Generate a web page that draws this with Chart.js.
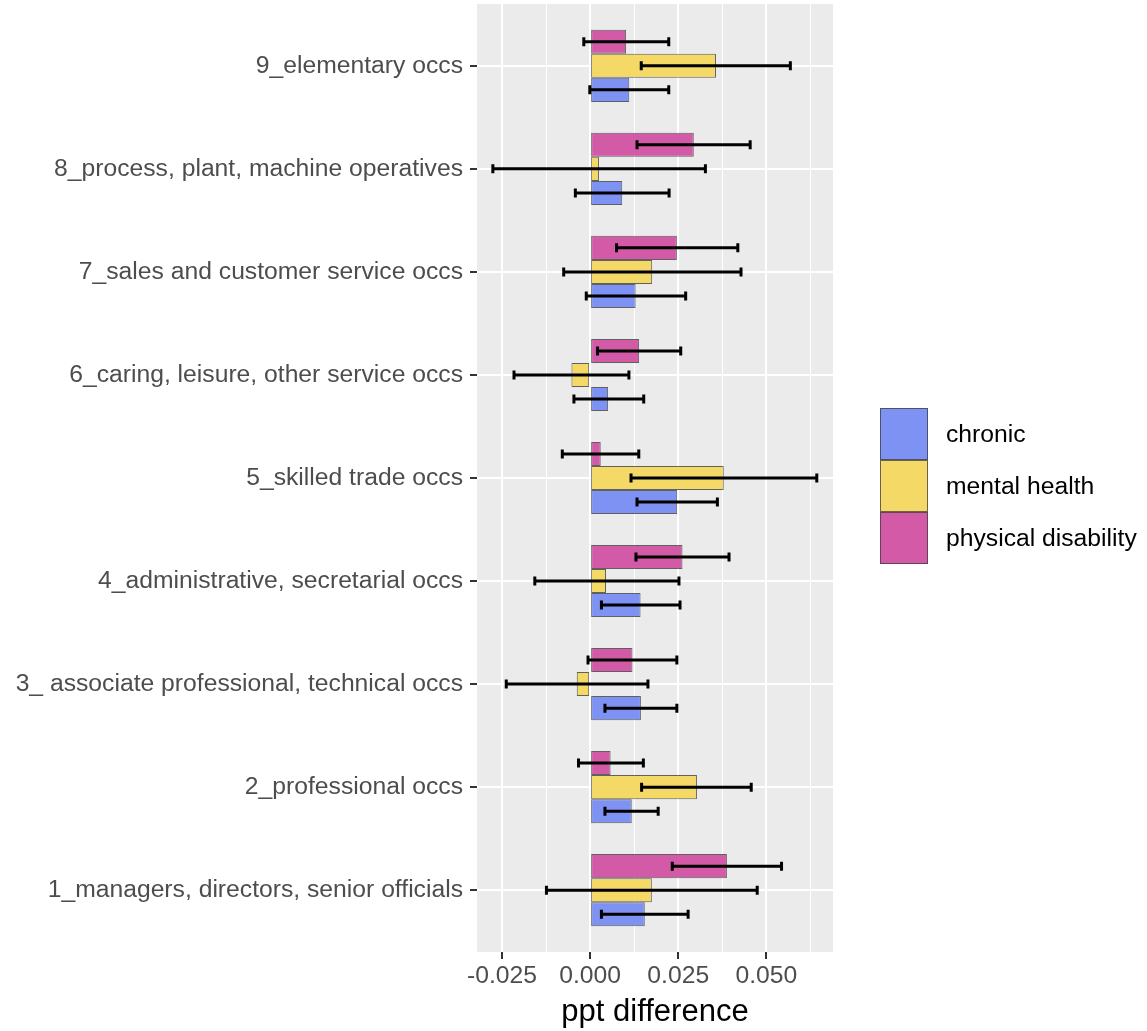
<!DOCTYPE html>
<html>
<head>
<meta charset="utf-8">
<script src="https://cdn.jsdelivr.net/npm/chart.js@4.4.0/dist/chart.umd.min.js"></script>
<style>
  body { margin: 0; background: #fff; }
  #wrap { position: relative; width: 1147px; height: 1031px; }
  #legend { position: absolute; left: 880px; top: 408px; font-family: "Liberation Sans", Arial, sans-serif; font-size: 24.7px; color: #000; }
  .row { display: flex; align-items: center; height: 52px; }
  .key { width: 48px; height: 52px; box-sizing: border-box; border: 1px solid rgba(60,60,60,0.75); margin-right: 18px; }
</style>
</head>
<body>
<div id="wrap">
  <canvas id="c" width="1147" height="1031"></canvas>
  <div id="legend"></div>
</div>
<script>
// occupation groups, bottom (1) to top (9)
const occupations = [
  '1_managers, directors, senior officials',
  '2_professional occs',
  '3_ associate professional, technical occs',
  '4_administrative, secretarial occs',
  '5_skilled trade occs',
  '6_caring, leisure, other service occs',
  '7_sales and customer service occs',
  '8_process, plant, machine operatives',
  '9_elementary occs'
];

const chronic      = [0.0155, 0.0118, 0.0144, 0.0143, 0.0247, 0.0051, 0.0129, 0.0091, 0.0111];
const chronicLo    = [0.0032, 0.0042, 0.0042, 0.0032, 0.0133, -0.0046, -0.0011, -0.0042, -0.0001];
const chronicHi    = [0.0278, 0.0193, 0.0246, 0.0255, 0.0361, 0.0152, 0.0271, 0.0224, 0.0223];

const mental       = [0.0175, 0.0303, -0.0038, 0.0045, 0.0379, -0.0053, 0.0176, 0.0025, 0.0357];
const mentalLo     = [-0.0124, 0.0146, -0.0238, -0.0157, 0.0116, -0.0216, -0.0075, -0.0276, 0.0145];
const mentalHi     = [0.0474, 0.0457, 0.0164, 0.0252, 0.0643, 0.0110, 0.0428, 0.0327, 0.0568];

const physical     = [0.0388, 0.0058, 0.0120, 0.0262, 0.0030, 0.0139, 0.0246, 0.0294, 0.0102];
const physicalLo   = [0.0233, -0.0033, -0.0006, 0.0130, -0.0079, 0.0021, 0.0075, 0.0133, -0.0018];
const physicalHi   = [0.0543, 0.0151, 0.0246, 0.0394, 0.0138, 0.0257, 0.0419, 0.0454, 0.0223];

const xTicks = [-0.025, -0.0125, 0, 0.0125, 0.025, 0.0375, 0.05, 0.0625];

const groups = [
  { label: 'chronic', data: chronic, lo: chronicLo, hi: chronicHi, color: '#7D92F3' },
  { label: 'mental health', data: mental, lo: mentalLo, hi: mentalHi, color: '#F4D966' },
  { label: 'physical disability', data: physical, lo: physicalLo, hi: physicalHi, color: '#D35AA6' }
];

const isMajor = v => Math.abs(v / 0.025 - Math.round(v / 0.025)) < 1e-9;

// topmost bar in each group is the last legend entry
const datasets = groups.slice().reverse().map(g => ({
  label: g.label,
  data: g.data.map((v, i) => ({ x: v, y: i + 1 })),
  lo: g.lo, hi: g.hi,
  backgroundColor: g.color,
  borderColor: 'rgba(50,50,50,0.75)',
  borderWidth: 1,
  borderSkipped: false,
  categoryPercentage: 0.7,
  barPercentage: 1.0
}));

const panelBg = {
  id: 'panelBg',
  beforeDraw(chart) {
    const { ctx, chartArea: a } = chart;
    ctx.save();
    ctx.fillStyle = '#EBEBEB';
    ctx.fillRect(a.left, a.top, a.right - a.left, a.bottom - a.top);
    ctx.restore();
  }
};

const errorBars = {
  id: 'errorBars',
  afterDatasetsDraw(chart) {
    const { ctx } = chart;
    const xs = chart.scales.x;
    ctx.save();
    ctx.strokeStyle = '#000';
    ctx.lineWidth = 3;
    chart.data.datasets.forEach((ds, di) => {
      chart.getDatasetMeta(di).data.forEach((bar, i) => {
        const y = bar.y;
        const x1 = xs.getPixelForValue(ds.lo[i]);
        const x2 = xs.getPixelForValue(ds.hi[i]);
        ctx.beginPath();
        ctx.moveTo(x1, y); ctx.lineTo(x2, y);
        ctx.moveTo(x1, y - 4.5); ctx.lineTo(x1, y + 4.5);
        ctx.moveTo(x2, y - 4.5); ctx.lineTo(x2, y + 4.5);
        ctx.stroke();
      });
    });
    ctx.restore();
  }
};

Chart.defaults.font.family = '"Liberation Sans", Arial, sans-serif';

new Chart(document.getElementById('c'), {
  type: 'bar',
  data: { datasets },
  options: {
    indexAxis: 'y',
    responsive: false,
    animation: false,
    layout: { padding: { top: 4, right: 314, bottom: 0, left: 0 } },
    plugins: { legend: { display: false }, tooltip: { enabled: false } },
    scales: {
      x: {
        type: 'linear',
        min: -0.0321,
        max: 0.0689,
        afterBuildTicks: s => { s.ticks = xTicks.map(v => ({ value: v })); },
        afterFit: s => { s.height = 79; s.paddingLeft = 0; s.paddingRight = 0; },
        border: { display: false },
        grid: {
          color: '#FFFFFF',
          lineWidth: c => (c.tick && isMajor(c.tick.value)) ? 2 : 1,
          tickColor: c => (c.tick && isMajor(c.tick.value)) ? '#333333' : 'rgba(0,0,0,0)',
          tickWidth: 2,
          tickLength: 7
        },
        ticks: {
          color: '#4D4D4D',
          font: { size: 24.7 },
          padding: 2,
          maxRotation: 0,
          autoSkip: false,
          callback: v => isMajor(v) ? v.toFixed(3) : ''
        },
        title: {
          display: true,
          text: 'ppt difference',
          color: '#000',
          font: { size: 31 },
          padding: 0
        }
      },
      y: {
        type: 'linear',
        min: 0.4,
        max: 9.6,
        offset: false,
        afterBuildTicks: s => { s.ticks = occupations.map((o, i) => ({ value: i + 1 })); },
        afterFit: s => { s.width = 477; s.paddingTop = 0; s.paddingBottom = 0; },
        border: { display: false },
        grid: {
          offset: false,
          color: '#FFFFFF',
          lineWidth: 2,
          tickColor: '#333333',
          tickWidth: 2,
          tickLength: 7
        },
        ticks: {
          color: '#4D4D4D',
          font: { size: 24.7 },
          padding: 7,
          autoSkip: false,
          callback: v => occupations[Math.round(v) - 1] || ''
        }
      }
    }
  },
  plugins: [panelBg, errorBars]
});

// legend, same order as the groups
const legend = document.getElementById('legend');
groups.forEach(g => {
  const row = document.createElement('div');
  row.className = 'row';
  const key = document.createElement('div');
  key.className = 'key';
  key.style.background = g.color;
  const txt = document.createElement('span');
  txt.textContent = g.label;
  row.appendChild(key);
  row.appendChild(txt);
  legend.appendChild(row);
});
</script>
</body>
</html>
